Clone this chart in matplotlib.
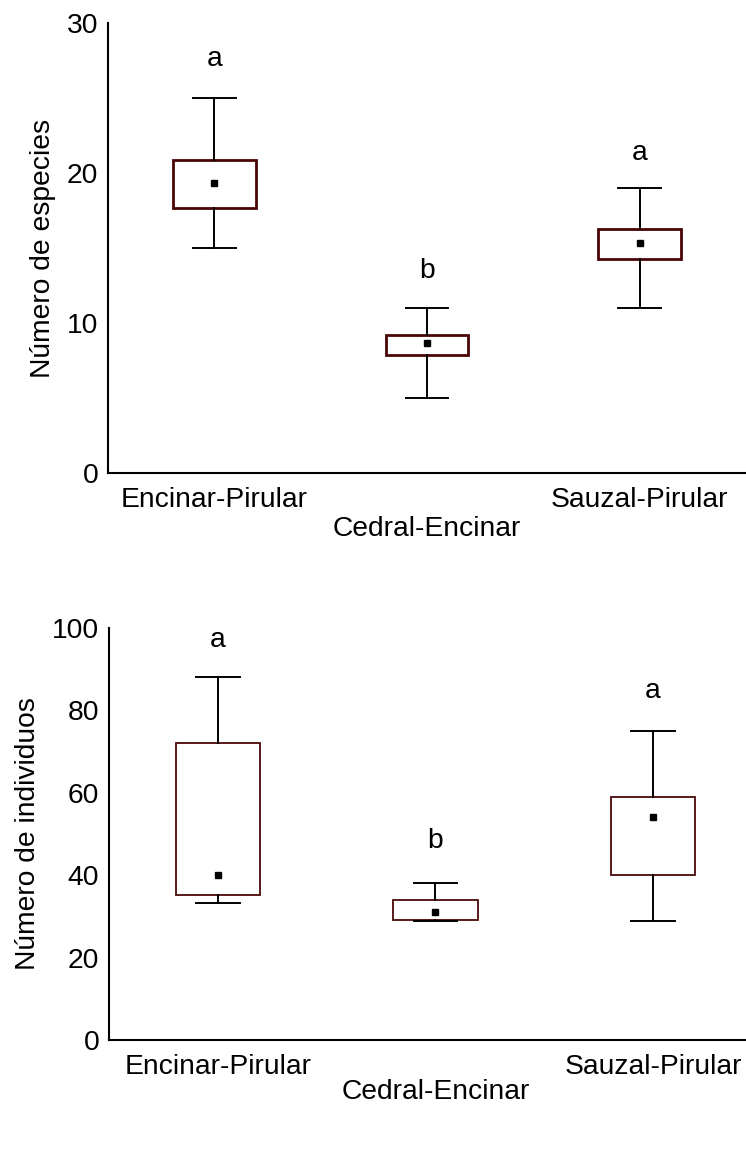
import matplotlib
matplotlib.use("Agg")
import matplotlib.pyplot as plt

plt.rcParams['font.family'] = ['Liberation Sans', 'DejaVu Sans']

categories = ["Encinar-Pirular", "Cedral-Encinar", "Sauzal-Pirular"]

# Número de especies
sp_whislo = [15.0, 5.0, 11.0]
sp_q1 = [17.67, 7.87, 14.27]
sp_q3 = [20.87, 9.2, 16.27]
sp_whishi = [25.0, 11.0, 19.0]
sp_mean = [19.33, 8.67, 15.33]
sp_letters = ["a", "b", "a"]
sp_letter_y = [27.1, 13.0, 20.9]

# Número de individuos
ind_whislo = [33.2, 28.9, 28.9]
ind_q1 = [35.2, 29.1, 40.0]
ind_q3 = [72.1, 34.0, 59.0]
ind_whishi = [88.1, 38.1, 75.0]
ind_mean = [40.0, 31.1, 54.1]
ind_letters = ["a", "b", "a"]
ind_letter_y = [95.4, 46.6, 83.0]

W, H = 746, 1161
FS = 20.3
fig = plt.figure(figsize=(W / 100, H / 100), dpi=100)


def make_stats(whislo, q1, q3, whishi, mean):
    stats = []
    for i in range(len(categories)):
        stats.append(dict(whislo=whislo[i], q1=q1[i], med=(q1[i] + q3[i]) / 2,
                          q3=q3[i], whishi=whishi[i], mean=mean[i], fliers=[]))
    return stats


def draw(ax, stats, letters, letter_y, ylim, yticks, ylabel, box_lw, box_col, xlim, pad2, ylab_pad):
    ax.bxp(stats, positions=[1, 2, 3], widths=0.39, showmeans=True,
           showfliers=False, patch_artist=True,
           boxprops=dict(facecolor='white', edgecolor=box_col, linewidth=box_lw),
           whiskerprops=dict(color='black', linewidth=1.4),
           capprops=dict(color='black', linewidth=1.4),
           medianprops=dict(linewidth=0),
           meanprops=dict(marker='s', markerfacecolor='black', markeredgecolor='black',
                          markersize=5),
           capwidths=0.2)
    for i, (lt, ly) in enumerate(zip(letters, letter_y)):
        ax.text(i + 1, ly, lt, ha='center', va='baseline', fontsize=FS)
    ax.set_xlim(*xlim)
    ax.set_ylim(*ylim)
    ax.set_yticks(yticks)
    ax.set_xticks([1, 2, 3])
    ax.set_xticklabels(categories)
    ax.tick_params(axis='both', length=0, labelsize=FS)
    ax.tick_params(axis='y', pad=7)
    ax.tick_params(axis='x', pad=10)
    ticks = ax.xaxis.get_major_ticks()
    ticks[1].set_pad(pad2)
    ax.set_ylabel(ylabel, fontsize=FS, labelpad=ylab_pad)
    for s in ['top', 'right']:
        ax.spines[s].set_visible(False)
    for s in ['left', 'bottom']:
        ax.spines[s].set_linewidth(1.5)
        ax.spines[s].set_color('black')


ax1 = fig.add_axes([108 / W, 1 - 473 / H, (W - 108) / W, (473 - 23) / H])
draw(ax1, make_stats(sp_whislo, sp_q1, sp_q3, sp_whishi, sp_mean),
     sp_letters, sp_letter_y, (0, 30), [0, 10, 20, 30], "Número de especies",
     2.0, '#4a0505', (0.5, 3.5), 31, 8)

ax2 = fig.add_axes([109 / W, 1 - 1040 / H, (W - 109) / W, (1040 - 628) / H])
draw(ax2, make_stats(ind_whislo, ind_q1, ind_q3, ind_whishi, ind_mean),
     ind_letters, ind_letter_y, (0, 100), [0, 20, 40, 60, 80, 100], "Número de individuos",
     1.3, '#4a0a0a', (0.499, 3.428), 28, 8)

fig.savefig("out.png", dpi=100)
